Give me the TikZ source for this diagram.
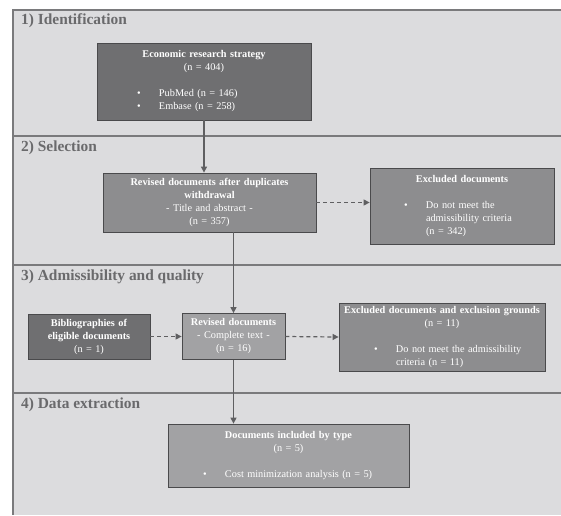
\documentclass[tikz,border=0pt]{standalone}
\usepackage{fontspec}
\setmainfont{Liberation Serif}
\usetikzlibrary{arrows.meta}
\definecolor{bgc}{HTML}{DCDCDE}
\definecolor{framec}{HTML}{7A7A7C}
\definecolor{darkc}{HTML}{6F6F71}
\definecolor{midc}{HTML}{8D8D8F}
\definecolor{lightc}{HTML}{A2A2A4}
\definecolor{connc}{HTML}{5F5F61}
\definecolor{headc}{HTML}{6A6A6C}
\definecolor{edgec}{HTML}{4A4A4C}
\newcommand{\bul}[2]{\makebox[\linewidth][l]{\hspace{#1}\makebox[22pt][l]{\textbullet}#2}}
\newcommand{\cont}[2]{\makebox[\linewidth][l]{\hspace{#1}\hspace{22pt}#2}}
\tikzset{
  boxnode/.style={draw=edgec, line width=0.8pt, text=white, inner xsep=0pt, inner ysep=2pt,
    align=center, font=\fontsize{10.3}{13}\selectfont},
  heading/.style={anchor=west, inner sep=0pt, text=headc, font=\fontsize{15.4}{18}\selectfont\bfseries},
  conn/.style={draw=connc, line width=1.2pt, -{Triangle[length=6pt,width=6pt]}},
  dconn/.style={conn, dash pattern=on 4pt off 3pt},
  framel/.style={draw=framec, line width=1.4pt}
}
\begin{document}
\begin{tikzpicture}[x=1pt,y=-1pt]
\useasboundingbox (0,0) rectangle (561,515);
\fill[white] (0,0) rectangle (561,515);
\fill[bgc] (13,10) rectangle (561,515);
\draw[framel] (561,10) -- (13,10) -- (13,515);
\draw[framel] (13,136) -- (561,136);
\draw[framel] (13,265) -- (561,265);
\draw[framel] (13,393) -- (561,393);

\node[heading] (h1) at (21,21) {1) Identification};
\node[heading] (h2) at (21,148) {2) Selection};
\node[heading] (h3) at (21,277) {3) Admissibility and quality};
\node[heading] (h4) at (21,405) {4) Data extraction};

\node[boxnode, fill=darkc, minimum width=214pt, text width=214pt, minimum height=77pt] (b1) at (204,81.5)
 {\textbf{Economic research strategy}\\(n = 404)\\[13pt]
  \bul{40pt}{PubMed (n = 146)}\\\bul{40pt}{Embase (n = 258)}};

\node[boxnode, fill=midc, minimum width=213pt, text width=213pt, minimum height=59pt] (b2) at (209.5,202.5)
 {\textbf{Revised documents after duplicates}\\\textbf{withdrawal}\\- Title and abstract -\\(n = 357)};

\node[boxnode, fill=midc, minimum width=184pt, text width=184pt, minimum height=76pt] (ex) at (462,206)
 {\textbf{Excluded documents}\\[13pt]
  \bul{34pt}{Do not meet the}\\\cont{34pt}{admissibility criteria}\\\cont{34pt}{(n = 342)}};

\node[boxnode, fill=darkc, minimum width=122pt, text width=122pt, minimum height=45pt] (bib) at (89,336.5)
 {\textbf{Bibliographies of}\\\textbf{eligible documents}\\(n = 1)};

\node[boxnode, fill=lightc, minimum width=103pt, text width=103pt, minimum height=46pt] (rev) at (233.5,336.5)
 {\textbf{Revised documents}\\- Complete text -\\(n = 16)};

\node[boxnode, fill=midc, minimum width=206pt, text width=206pt, minimum height=68pt] (gr) at (442,337)
 {\textbf{Excluded documents and exclusion grounds}\\(n = 11)\\[13pt]
  \bul{35pt}{Do not meet the admissibility}\\\cont{35pt}{criteria (n = 11)}};

\node[boxnode, fill=lightc, minimum width=241pt, text width=241pt, minimum height=63pt] (inc) at (288.5,455.5)
 {\textbf{Documents included by type}\\(n = 5)\\[13pt]
  \bul{35pt}{Cost minimization analysis (n = 5)}};

\draw[conn] (b1.south) -- (b1.south |- b2.north);
\draw[conn] (b2.south -| rev.north) -- (rev.north);
\draw[conn] (rev.south) -- (rev.south |- inc.north);
\draw[dconn] (b2.east) -- (b2.east -| ex.west);
\draw[dconn] (bib.east) -- (rev.west);
\draw[dconn] (rev.east) -- (gr.west);
\end{tikzpicture}
\end{document}
